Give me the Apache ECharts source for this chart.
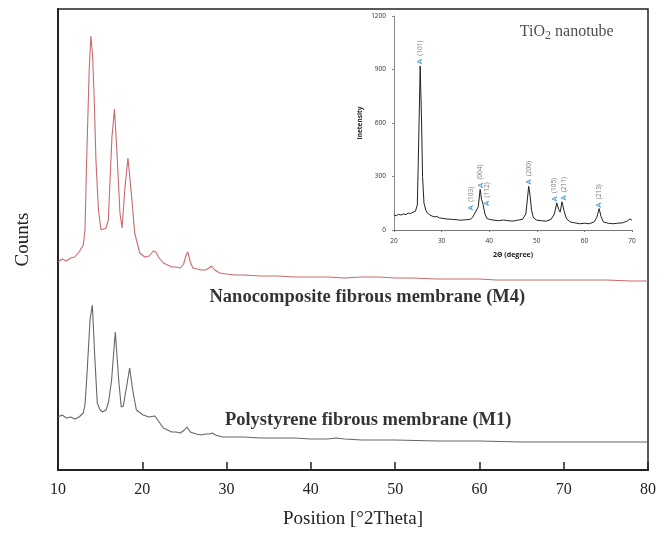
<!DOCTYPE html>
<html><head><meta charset="utf-8">
<script src="https://cdn.jsdelivr.net/npm/echarts@6/dist/echarts.min.js"></script>
<style>html,body{margin:0;padding:0;background:#fff}#c{width:669px;height:538px}</style>
</head><body><div id="c"></div>
<script>
// ---- Main chart data ----
const xTicks = [10, 20, 30, 40, 50, 60, 70, 80];
const m4X = [10,10.5,11,11.5,12,12.5,13,13.2,13.4,13.7,13.9,14.1,14.3,14.5,14.8,15.1,15.3,15.7,15.97,16.4,16.7,17.0,17.35,17.6,17.95,18.3,18.7,19.1,19.7,20.3,20.8,21.3,21.6,22.0,22.5,23,23.5,24,24.5,24.9,25.2,25.4,25.7,26,26.5,27,27.5,27.9,28.2,28.6,29.2,30,31,32,34,36,38,40,42,44,46,48,50,52,55,58,60,62,65,68,70,72,75,78,80];
const m4Y = [208,211,209,212,213,218,225,240,310,400,434,415,370,310,260,240,238,242,250,333,361,317,257,242,283,312,277,237,217,213,214,219,218,212,207,205,203,203,202,206,215,218,208,202,201,200,200,202,204,200,197,196,195,195,194,194,193,193,193,192,193,193,192,192,191,191,191,190,190,190,190,190,190,189,189];
const m1X = [10,10.5,11,11.5,12,12.5,13,13.2,13.4,13.8,14.07,14.4,14.66,15.0,15.3,15.7,16.0,16.36,16.8,17.2,17.5,17.75,18.07,18.5,18.86,19.3,20.1,20.8,21.5,22.0,22.5,23,23.5,24,24.5,25,25.3,25.7,26.4,27,27.5,28,28.3,28.7,29.5,30,32,34,36,38,40,42,43,44,46,50,55,60,65,70,75,80];
const m1Y = [53,55,52,53,51,53,57,65,90,150,165,107,67,60,58,60,68,90,138,90,63,64,80,102,80,60,55,53,54,48,42,40,38,38,37,40,43,38,36,35,36,36,37,35,33,33,33,32,32,32,31,31,32,31,30,30,29,29,28,28,28,28];
const m4Name = 'Nanocomposite fibrous membrane (M4)';
const m1Name = 'Polystyrene fibrous membrane (M1)';
const m4LabelAt = [46.7, 173];
const m1LabelAt = [46.8, 50];

// ---- Inset (TiO2 nanotube) data ----
const insetXTicks = [20, 30, 40, 50, 60, 70];
const insetYTicks = [0, 300, 600, 900, 1200];
const tiX = [20,20.5,21,21.5,22,22.5,23,23.5,24,24.5,24.9,25.1,25.5,25.8,26,26.3,26.7,27,27.5,28,28.5,29,29.5,30,31,32,33,34,35,36,36.5,37,37.3,37.7,38.1,38.4,38.7,39.1,39.5,40,41,42,43,44,45,46,47,47.7,48.3,48.6,48.9,49.3,50,51,52,53,53.7,54.2,54.6,54.9,55.3,55.7,56.2,57,58,59,60,61,62,62.6,63.1,63.5,64,65,66,67,68,69,69.6,70];
const tiY = [85,80,88,84,90,86,95,92,100,105,140,380,920,600,300,150,110,95,85,78,74,76,68,66,62,60,58,55,57,60,70,95,90,130,228,170,145,90,65,60,55,52,56,52,50,55,60,90,245,190,110,68,55,52,50,60,90,152,115,100,158,110,65,45,40,35,38,35,45,70,120,75,45,38,35,38,40,50,62,55];
const peakX = [25.5, 36.2, 38.2, 39.6, 48.4, 53.7, 55.7, 63.0];
const peakY = [930, 110, 235, 135, 255, 160, 165, 125];
const peakHkl = ['(101)', '(103)', '(004)', '(112)', '(200)', '(105)', '(211)', '(213)'];
const insetTitle = 'TiO';
const insetTitleSub = '2';
const insetTitleRest = ' nanotube';
const insetTitleAt = [56.3, 1110];
const insetXName = '2\u0398 (degree)';
const insetYName = 'Inetensity';

const serif = '"Liberation Serif", "DejaVu Serif", serif';
const sans = '"Open Sans", "Noto Sans", sans-serif';

const chart = echarts.init(document.getElementById('c'), null, {renderer: 'canvas'});
const zip = (a, b) => a.map((v, i) => [v, b[i]]);

chart.setOption({
  animation: false,
  backgroundColor: '#fff',
  grid: [
    {left: 58, top: 9, right: 21, bottom: 68, show: true, borderColor: '#222', borderWidth: 1.5, backgroundColor: 'transparent'},
    {left: 394, top: 16, width: 238, height: 214, show: false}
  ],
  xAxis: [
    {gridIndex: 0, type: 'value', min: 10, max: 80, interval: 10,
     axisLine: {lineStyle: {color: '#222', width: 2}},
     axisTick: {inside: true, length: 8, lineStyle: {color: '#222', width: 1.5}},
     axisLabel: {color: '#222', fontFamily: serif, fontSize: 16, margin: 12,
       formatter: v => xTicks.includes(v) ? String(v) : ''},
     splitLine: {show: false},
     name: 'Position [\u00b02Theta]', nameLocation: 'middle', nameGap: 40,
     nameTextStyle: {color: '#222', fontFamily: serif, fontSize: 19}},
    {gridIndex: 1, type: 'value', min: 20, max: 70, interval: 10,
     axisLine: {lineStyle: {color: '#777', width: 1}},
     axisTick: {length: 2, lineStyle: {color: '#777'}},
     axisLabel: {color: '#333', fontFamily: sans, fontSize: 6.5, margin: 8,
       formatter: v => insetXTicks.includes(v) ? String(v) : ''},
     splitLine: {show: false},
     name: insetXName, nameLocation: 'middle', nameGap: 21,
     nameTextStyle: {color: '#222', fontFamily: sans, fontSize: 7, fontWeight: 'bold'}}
  ],
  yAxis: [
    {gridIndex: 0, type: 'value', min: 0, max: 461,
     axisLine: {show: true, lineStyle: {color: '#222', width: 2}},
     axisTick: {show: false}, axisLabel: {show: false}, splitLine: {show: false},
     name: 'Counts', nameLocation: 'middle', nameGap: 25, nameRotate: 90,
     nameTextStyle: {color: '#222', fontFamily: serif, fontSize: 19}},
    {gridIndex: 1, type: 'value', min: 0, max: 1200, interval: 300,
     axisLine: {show: true, lineStyle: {color: '#888', width: 1}},
     axisTick: {show: true, length: 2, lineStyle: {color: '#888'}},
     axisLabel: {color: '#333', fontFamily: sans, fontSize: 6.5, margin: 8,
       formatter: v => insetYTicks.includes(v) ? String(v) : ''},
     splitLine: {show: false},
     name: insetYName, nameLocation: 'middle', nameGap: 30, nameRotate: 90,
     nameTextStyle: {color: '#222', fontFamily: sans, fontSize: 6.5, fontWeight: 'bold'}}
  ],
  series: [
    {type: 'line', xAxisIndex: 0, yAxisIndex: 0, data: zip(m4X, m4Y), showSymbol: false,
     lineStyle: {color: '#c96a6e', width: 1.1}, z: 3},
    {type: 'line', xAxisIndex: 0, yAxisIndex: 0, data: zip(m1X, m1Y), showSymbol: false,
     lineStyle: {color: '#666', width: 1.1}, z: 3},
    {type: 'scatter', xAxisIndex: 0, yAxisIndex: 0, symbolSize: 0, silent: true,
     data: [
       {value: m4LabelAt, label: {formatter: m4Name}},
       {value: m1LabelAt, label: {formatter: m1Name}}
     ],
     label: {show: true, position: 'inside', color: '#000', fontFamily: serif, fontSize: 18.5, fontWeight: 'bold'}},
    {type: 'line', xAxisIndex: 1, yAxisIndex: 1, data: zip(tiX, tiY), showSymbol: false,
     lineStyle: {color: '#222', width: 1}, z: 4},
    {type: 'scatter', xAxisIndex: 1, yAxisIndex: 1, symbolSize: 0, silent: true,
     data: zip(peakX, peakY),
     label: {show: true, position: 'top', distance: 0, rotate: 90, align: 'left', verticalAlign: 'middle',
       formatter: p => '{a|A} {b|' + peakHkl[p.dataIndex] + '}',
       rich: {a: {color: '#3a8fc8', fontSize: 7.5, fontFamily: sans, fontWeight: 'bold'},
              b: {color: '#555', fontSize: 6.5, fontFamily: sans}}}},
    {type: 'scatter', xAxisIndex: 1, yAxisIndex: 1, symbolSize: 0, silent: true,
     data: [insetTitleAt],
     label: {show: true, position: 'inside',
       formatter: '{t|' + insetTitle + '}{s|' + insetTitleSub + '}{t|' + insetTitleRest + '}',
       rich: {t: {fontFamily: serif, fontSize: 16, color: '#222'},
              s: {fontFamily: serif, fontSize: 12, color: '#222', verticalAlign: 'bottom', padding: [8, 0, 0, 0]}}}}
  ]
});
</script></body></html>
